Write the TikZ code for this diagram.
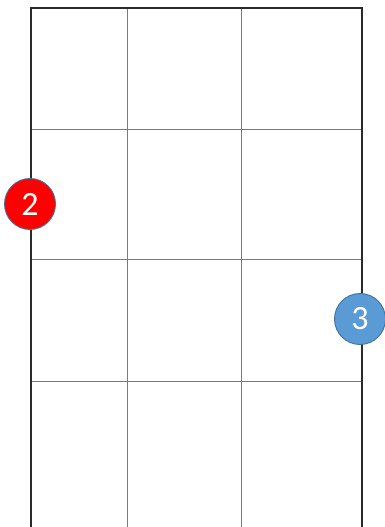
\documentclass[tikz,border=0pt]{standalone}
\usepackage{fontspec}
\setmainfont{Carlito}
\definecolor{gridgray}{HTML}{7A7A7A}
\definecolor{frame}{HTML}{2A2A2A}
\definecolor{badgeblue}{HTML}{5B9BD5}
\definecolor{badgeedge}{HTML}{41719C}
\tikzset{
  x=1pt,y=1pt,
  inner/.style={draw=gridgray,line width=1pt},
  outer/.style={draw=frame,line width=1.4pt},
  badge/.style={circle,minimum size=51pt,inner sep=0pt,draw=badgeedge,line width=0.9pt,text=white,font=\fontsize{34}{34}\selectfont}
}
\begin{document}
\begin{tikzpicture}
\useasboundingbox (0,0) rectangle (385,527);
% inner grid
\draw[inner] (127,0) -- (127,519);
\draw[inner] (241,0) -- (241,519);
\draw[inner] (31,397) -- (362,397);
\draw[inner] (31,267) -- (362,267);
\draw[inner] (31,145) -- (362,145);
% outer frame (open at bottom)
\draw[outer] (31,0) -- (31,519) -- (362,519) -- (362,0);
% badges
\node[badge,fill=red] (b2) at (30,323) {2};
\node[badge,fill=badgeblue] (b3) at (360,208) {3};
\end{tikzpicture}
\end{document}
